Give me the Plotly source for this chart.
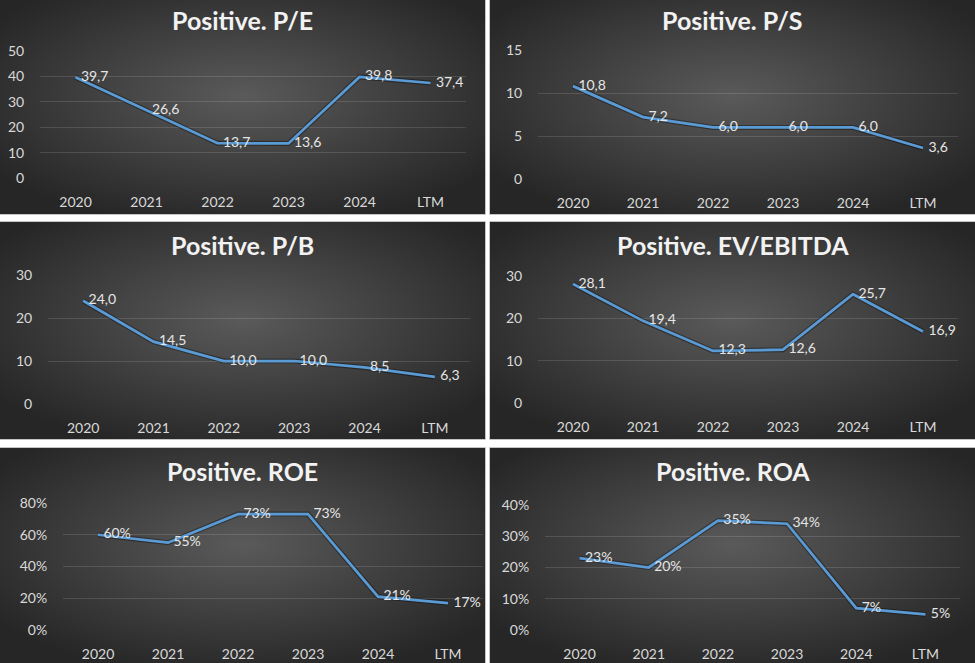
import base64
import plotly.graph_objects as go

W, H = 975, 663

categories = ["2020", "2021", "2022", "2023", "2024", "LTM"]

titles = ["Positive. P/E", "Positive. P/S", "Positive. P/B",
          "Positive. EV/EBITDA", "Positive. ROE", "Positive. ROA"]

pe_values = [39.7, 26.6, 13.7, 13.6, 39.8, 37.4]
ps_values = [10.8, 7.2, 6.0, 6.0, 6.0, 3.6]
pb_values = [24.0, 14.5, 10.0, 10.0, 8.5, 6.3]
ev_ebitda_values = [28.1, 19.4, 12.3, 12.6, 25.7, 16.9]
roe_values = [0.60, 0.55, 0.73, 0.73, 0.21, 0.17]
roa_values = [0.23, 0.20, 0.35, 0.34, 0.07, 0.05]

pe_ticks = [0, 10, 20, 30, 40, 50]
ps_ticks = [0, 5, 10, 15]
pb_ticks = [0, 10, 20, 30]
ev_ticks = [0, 10, 20, 30]
roe_ticks = [0, 0.2, 0.4, 0.6, 0.8]
roa_ticks = [0, 0.1, 0.2, 0.3, 0.4]

series = [pe_values, ps_values, pb_values, ev_ebitda_values, roe_values, roa_values]
ticks = [pe_ticks, ps_ticks, pb_ticks, ev_ticks, roe_ticks, roa_ticks]
is_pct = [False, False, False, False, True, True]

# layout geometry (pixels)
panels = [(0, 0, 485, 214), (490, 0, 975, 214),
          (0, 222, 485, 439), (490, 222, 975, 439),
          (0, 448, 485, 663), (490, 448, 975, 663)]
plot_x = [(40, 466), (538, 958), (48, 470), (538, 958), (63, 483), (545, 960)]
plot_y = [(51, 178), (50, 179), (275, 404), (276, 403), (503, 630), (505, 630)]
title_y = [20, 20, 245, 245, 471, 471]

svg = ('<svg xmlns="http://www.w3.org/2000/svg" width="485" height="215" '
       'viewBox="0 0 485 215" preserveAspectRatio="none">'
       '<defs><radialGradient id="g" cx="50%" cy="45%" r="62%">'
       '<stop offset="0%" stop-color="#5a5a5a"/>'
       '<stop offset="100%" stop-color="#262626"/>'
       '</radialGradient></defs>'
       '<rect width="485" height="215" fill="url(#g)"/></svg>')
bg_src = "data:image/svg+xml;base64," + base64.b64encode(svg.encode()).decode()

FONT = "Lato"
fig = go.Figure()
images, shapes, annotations = [], [], []
layout_axes = {}

for i in range(6):
    n = "" if i == 0 else str(i + 1)
    x0, y0, x1, y1 = panels[i]
    images.append(dict(source=bg_src, xref="paper", yref="paper",
                       x=x0 / W, y=1 - y0 / H, sizex=(x1 - x0) / W, sizey=(y1 - y0) / H,
                       xanchor="left", yanchor="top", sizing="stretch", layer="below"))
    shapes.append(dict(type="rect", xref="paper", yref="paper",
                       x0=(x0 - 0.5) / W, x1=(x1 + 0.5) / W,
                       y0=1 - (y1 + 0.5) / H, y1=1 - (y0 - 0.5) / H,
                       line=dict(color="#c4c4c4", width=1), fillcolor="rgba(0,0,0,0)",
                       layer="below"))
    annotations.append(dict(text="<b>" + titles[i] + "</b>", xref="paper", yref="paper",
                            x=(x0 + x1) / 2 / W, y=1 - title_y[i] / H,
                            xanchor="center", yanchor="middle", showarrow=False,
                            font=dict(family=FONT, size=25, color="#f2f2f2")))
    tks = ticks[i]
    tmpl = "%{y:.0%}" if is_pct[i] else "%{y:.1f}"
    # shadow
    fig.add_trace(go.Scatter(x=categories, y=series[i], mode="lines",
                             line=dict(color="rgba(0,0,0,0.35)", width=5),
                             hoverinfo="skip", showlegend=False,
                             xaxis="x" + n, yaxis="y" + n))
    fig.add_trace(go.Scatter(x=categories, y=series[i], mode="lines+markers+text",
                             line=dict(color="#5b9bd5", width=2.75),
                             marker=dict(size=7, color="rgba(0,0,0,0)"),
                             texttemplate=tmpl, textposition="middle right",
                             textfont=dict(family=FONT, size=14, color="#e6e6e6"),
                             showlegend=False, xaxis="x" + n, yaxis="y" + n))
    px0, px1 = plot_x[i]
    py0, py1 = plot_y[i]
    layout_axes["xaxis" + n] = dict(
        domain=[px0 / W, px1 / W], anchor="y" + n, type="category",
        range=[-0.5, 5.5], showgrid=False, zeroline=False, showline=False,
        ticks="outside", ticklen=11, tickcolor="rgba(0,0,0,0)", automargin=False,
        tickfont=dict(family=FONT, size=14, color="#d9d9d9"), fixedrange=True)
    layout_axes["yaxis" + n] = dict(
        domain=[1 - py1 / H, 1 - py0 / H], anchor="x" + n,
        range=[tks[0], tks[-1]], tickvals=tks,
        tickformat=".0%" if is_pct[i] else "d",
        showgrid=True, gridcolor="rgba(255,255,255,0.13)", gridwidth=1,
        zeroline=False, showline=False, automargin=False,
        ticks="outside", ticklen=12, tickcolor="rgba(0,0,0,0)",
        tickfont=dict(family=FONT, size=14, color="#d9d9d9"), fixedrange=True)

fig.update_layout(
    width=W, height=H, margin=dict(l=0, r=0, t=0, b=0, pad=0, autoexpand=False),
    paper_bgcolor="white", plot_bgcolor="rgba(0,0,0,0)",
    separators=", ", images=images, shapes=shapes, annotations=annotations,
    **layout_axes)

fig.write_html("out.html", config={"displayModeBar": False},
               post_script="document.body.style.margin='0';"
                           "document.body.style.padding='0';"
                           "document.body.style.overflow='hidden';"
                           "document.documentElement.style.overflow='hidden';")
